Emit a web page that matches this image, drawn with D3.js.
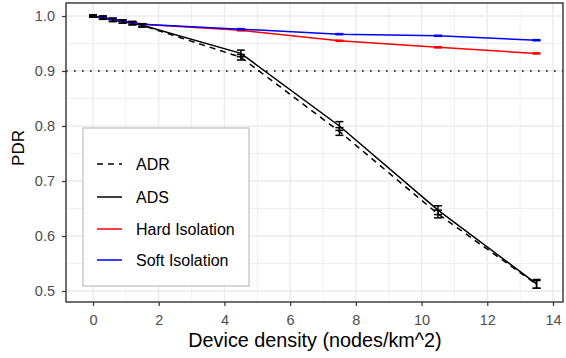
<!DOCTYPE html>
<html><head><meta charset="utf-8">
<script src="https://cdn.jsdelivr.net/npm/d3@7"></script>
<style>body{margin:0;background:#fff}svg{display:block;font-family:"Liberation Sans",Arial,sans-serif}</style>
</head><body><svg id="c" width="566" height="358"></svg>
<script>
const xs = [0, 0.3, 0.6, 0.9, 1.2, 1.5, 4.5, 7.5, 10.5, 13.5];
const seriesNames = ["ADR", "ADS", "Hard Isolation", "Soft Isolation"];
const adr  = [1.0, 0.997, 0.993, 0.990, 0.987, 0.983, 0.925, 0.790, 0.640, 0.512];
const ads  = [1.0, 0.997, 0.993, 0.990, 0.987, 0.983, 0.932, 0.800, 0.647, 0.513];
const hard = [1.0, 0.997, 0.994, 0.991, 0.988, 0.985, 0.974, 0.955, 0.943, 0.932];
const soft = [1.0, 0.997, 0.994, 0.991, 0.988, 0.985, 0.976, 0.967, 0.964, 0.956];
const adrErr  = [0.002, 0.003, 0.003, 0.003, 0.003, 0.003, 0.005, 0.007, 0.007, 0.007];
const adsErr  = [0.002, 0.003, 0.003, 0.003, 0.003, 0.003, 0.006, 0.008, 0.008, 0.008];
const hardErr = [0.0003, 0.0005, 0.0005, 0.0005, 0.0005, 0.0005, 0.001, 0.001, 0.001, 0.001];
const softErr = [0.0003, 0.0005, 0.0005, 0.0005, 0.0005, 0.0005, 0.001, 0.001, 0.001, 0.001];
const xTicks = [0, 2, 4, 6, 8, 10, 12, 14];
const yTicks = [0.5, 0.6, 0.7, 0.8, 0.9, 1.0];
const threshold = 0.9;

const svg = d3.select("#c");
const L = 66, R = 563, T = 3, B = 302;
const x = d3.scaleLinear().range([L, R]).domain([(L-93)/32.857, (R-93)/32.857]);
const y = d3.scaleLinear().range([B, T]).domain([1.0 - (B-16)/550, 1.0 + (16-T)/550]);

const g = svg.append("g");
const xMinor = d3.range(-1, 15, 2).filter(v => x(v) > L && x(v) < R);
const yMinor = [0.55, 0.65, 0.75, 0.85, 0.95];
g.selectAll(".xm").data(xMinor).enter().append("line")
  .attr("x1", d => x(d)).attr("x2", d => x(d)).attr("y1", T).attr("y2", B)
  .attr("stroke", "#EBEBEB").attr("stroke-width", 0.8);
g.selectAll(".ym").data(yMinor).enter().append("line")
  .attr("y1", d => y(d)).attr("y2", d => y(d)).attr("x1", L).attr("x2", R)
  .attr("stroke", "#EBEBEB").attr("stroke-width", 0.8);
g.selectAll(".xg").data(xTicks).enter().append("line")
  .attr("x1", d => x(d)).attr("x2", d => x(d)).attr("y1", T).attr("y2", B)
  .attr("stroke", "#EBEBEB").attr("stroke-width", 1.4);
g.selectAll(".yg").data(yTicks).enter().append("line")
  .attr("y1", d => y(d)).attr("y2", d => y(d)).attr("x1", L).attr("x2", R)
  .attr("stroke", "#EBEBEB").attr("stroke-width", 1.4);

g.append("line").attr("x1", L).attr("x2", R).attr("y1", y(threshold)).attr("y2", y(threshold))
  .attr("stroke", "#000").attr("stroke-width", 1.6).attr("stroke-dasharray", "1.6,6.4");

const series = [
  {name: seriesNames[0], v: adr, e: adrErr, color: "#000", dash: "6,5"},
  {name: seriesNames[1], v: ads, e: adsErr, color: "#000", dash: null},
  {name: seriesNames[2], v: hard, e: hardErr, color: "#FF0000", dash: null},
  {name: seriesNames[3], v: soft, e: softErr, color: "#0000FF", dash: null}
];
const line = d3.line().x(d => x(d[0])).y(d => y(d[1]));
const ptsOf = s => xs.map((xv, i) => [xv, s.v[i], s.e[i]]);
series.forEach(s => {
  g.append("path").attr("d", line(ptsOf(s))).attr("fill", "none")
    .attr("stroke", s.color).attr("stroke-width", 1.5)
    .attr("stroke-dasharray", s.dash);
});
[2, 3, 0, 1].forEach(k => {
  const s = series[k];
  const eb = g.append("g").selectAll("g").data(ptsOf(s)).enter().append("g");
  eb.append("line").attr("x1", d => x(d[0])).attr("x2", d => x(d[0]))
    .attr("y1", d => y(d[1]-d[2])).attr("y2", d => y(d[1]+d[2]))
    .attr("stroke", s.color).attr("stroke-width", 1.5);
  [-1, 1].forEach(sg2 => {
    eb.append("line").attr("x1", d => x(d[0]) - 4).attr("x2", d => x(d[0]) + 4)
      .attr("y1", d => y(d[1] + sg2*d[2])).attr("y2", d => y(d[1] + sg2*d[2]))
      .attr("stroke", s.color).attr("stroke-width", 1.5);
  });
});

g.append("rect").attr("x", L).attr("y", T).attr("width", R-L).attr("height", B-T)
  .attr("fill", "none").attr("stroke", "#333").attr("stroke-width", 1.4);

const xAxis = svg.append("g").attr("transform", `translate(0,${B})`)
  .call(d3.axisBottom(x).tickValues(xTicks).tickSize(4).tickPadding(9).tickFormat(d3.format("d")));
const yAxis = svg.append("g").attr("transform", `translate(${L},0)`)
  .call(d3.axisLeft(y).tickValues(yTicks).tickSize(4).tickPadding(7).tickFormat(d3.format(".1f")));
[xAxis, yAxis].forEach(a => {
  a.select(".domain").remove();
  a.selectAll(".tick line").attr("stroke", "#333").attr("stroke-width", 1.2);
  a.selectAll(".tick text").attr("fill", "#4D4D4D").style("font-size", "14.5px")
   .style("font-family", "'Liberation Sans',Arial,sans-serif");
});

svg.append("text").attr("x", 315).attr("y", 347).attr("text-anchor", "middle")
  .style("font-size", "19.8px").attr("fill", "#000").text("Device density (nodes/km^2)");
svg.append("text").attr("transform", `translate(24,148) rotate(-90)`).attr("text-anchor", "middle")
  .style("font-size", "17px").attr("fill", "#000").text("PDR");

const lg = svg.append("g");
lg.append("rect").attr("x", 83).attr("y", 128).attr("width", 166).attr("height", 158)
  .attr("fill", "#fff").attr("stroke", "#BEBEBE").attr("stroke-width", 1.2);
const rowY = [164, 197, 229, 260];
series.forEach((s, i) => {
  lg.append("line").attr("x1", 97).attr("x2", 122).attr("y1", rowY[i]).attr("y2", rowY[i])
    .attr("stroke", s.color).attr("stroke-width", 1.5).attr("stroke-dasharray", s.dash);
  lg.append("text").attr("x", 136).attr("y", rowY[i]).attr("dy", "0.36em")
    .style("font-size", "16px").attr("fill", "#000").text(s.name);
});
</script></body></html>
